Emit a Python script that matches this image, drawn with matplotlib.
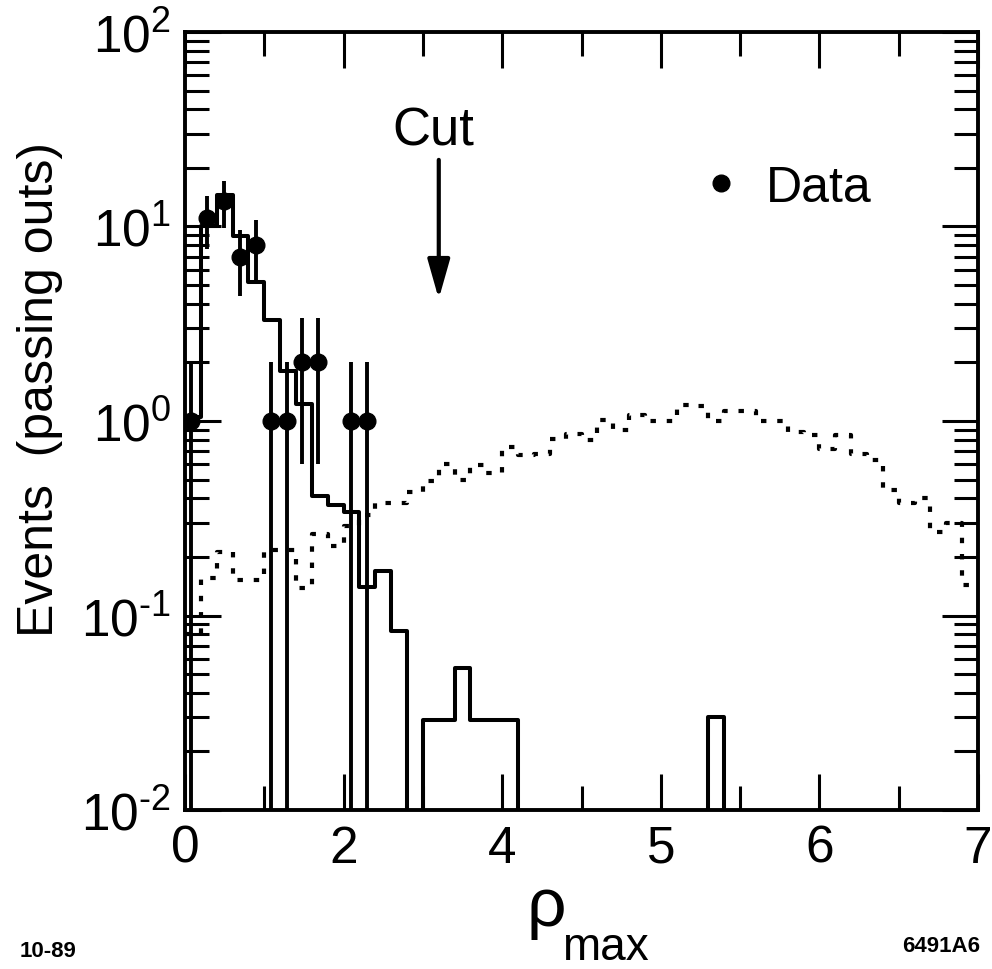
import numpy as np
import matplotlib.pyplot as plt
from matplotlib.lines import Line2D

plt.rcParams['font.family'] = ['Liberation Sans', 'DejaVu Sans']
plt.rcParams['mathtext.fontset'] = 'custom'
plt.rcParams['mathtext.rm'] = 'Liberation Sans'
plt.rcParams['mathtext.default'] = 'regular'

# frame runs 0..10 in 0.2 wide bins, printed labels are the original ones
edges = np.round(np.arange(0, 10.001, 0.2), 2)
xtick_pos = [0, 2, 4, 6, 8, 10]
xtick_txt = ['0', '2', '4', '5', '6', '7']
ytick_pos = [1e-2, 1e-1, 1, 10, 100]
ytick_txt = ['$10^{\u20102}$', '$10^{\u20101}$', '$10^{0}$', '$10^{1}$', '$10^{2}$']

mc_solid = [1.05, 10, 14.5, 8.9, 5.2, 3.3, 1.8, 1.23, 0.41, 0.37,
            0.34, 0.14, 0.17, 0.083, 0, 0.029, 0.029, 0.054, 0.029, 0.029,
            0.029, 0, 0, 0, 0, 0, 0, 0, 0, 0,
            0, 0, 0, 0.030, 0, 0, 0, 0, 0, 0,
            0, 0, 0, 0, 0, 0, 0, 0, 0, 0]

mc_dotted = [0.08, 0.155, 0.213, 0.152, 0.152, 0.216, 0.216, 0.138, 0.262, 0.228,
             0.29, 0.33, 0.38, 0.38, 0.43, 0.49, 0.60, 0.50, 0.596, 0.543,
             0.735, 0.668, 0.68, 0.81, 0.86, 0.80, 1.01, 0.90, 1.07, 1.0,
             1.0, 1.21, 1.19, 1.0, 1.12, 1.12, 1.0, 1.0, 0.88, 0.85,
             0.72, 0.85, 0.68, 0.63, 0.444, 0.38, 0.40, 0.27, 0.30, 0.144]

data_x = [0.07, 0.28, 0.49, 0.69, 0.89, 1.09, 1.29, 1.48, 1.68, 2.09, 2.29]
data_y = [1, 11, 13.5, 7, 8, 1, 1, 2, 2, 1, 1]
data_err = [1, 3.3, 3.7, 2.6, 2.8, 1, 1, 1.4, 1.4, 1, 1]

fig = plt.figure(figsize=(9.92, 9.70), dpi=100)
ax = fig.add_axes([0.1865, 0.1639, 0.7994, 0.8021])

def steps(vals):
    v = np.array(vals, dtype=float)
    v = np.where(v > 0, v, 1e-4)
    return np.append(v, v[-1])

ax.step(edges, steps(mc_solid), where='post', color='k', lw=2.9)
ax.step(edges, steps(mc_dotted), where='post', color='k', lw=3.0,
        linestyle=(0, (1.3, 2.6)))

y = np.array(data_y, dtype=float)
e = np.array(data_err, dtype=float)
lo = np.where(y - e > 0, e, y - 1e-4)
ax.errorbar(data_x, y, yerr=[lo, e], fmt='o', color='k', ms=12,
            elinewidth=2.8, capsize=0)

ax.set_yscale('log')
ax.set_xlim(0, 10)
ax.set_ylim(1e-2, 1e2)
ax.set_xticks(xtick_pos)
ax.set_xticklabels(xtick_txt)
ax.set_xticks([1, 3, 5, 7, 9], minor=True)
ax.set_yticks(ytick_pos)
ax.set_yticklabels(ytick_txt)

for s in ax.spines.values():
    s.set_linewidth(2.8)
ax.tick_params(which='both', direction='in', top=True, right=True, width=2.2)
ax.tick_params(which='major', length=26, labelsize=37)
ax.tick_params(axis='x', which='major', pad=10)
ax.tick_params(axis='y', which='major', pad=10)
ax.tick_params(which='minor', length=17)

fig.text(40, 970 - 390, 'Events  (passing outs)', fontsize=36, rotation=90,
         ha='center', va='center', transform=None)

ax.annotate('', xy=(3.2, 4.24), xytext=(3.2, 22),
            arrowprops=dict(arrowstyle='-|>,head_length=0.6,head_width=0.17',
                            color='k', lw=3, mutation_scale=40,
                            shrinkA=0, shrinkB=0))
ax.text(3.13, 26.5, 'Cut', fontsize=38, ha='center', va='baseline')

dot = Line2D([], [], marker='o', ls='', color='k', ms=12)
ax.legend([dot], ['Data'], loc='center left', bbox_to_anchor=(0.60, 0.80),
          frameon=False, fontsize=36, handlelength=0.6, handletextpad=0.6)

fig.text(546, 970 - 926, 'ρ', fontsize=50, ha='center', va='baseline',
         transform=None)
fig.text(562, 970 - 960, 'max', fontsize=33, ha='left', va='baseline',
         transform=None)
fig.text(20, 970 - 957, '10-89', fontsize=16, fontweight='bold',
         transform=None)
fig.text(980, 970 - 952, '6491A6', fontsize=16, fontweight='bold', ha='right',
         transform=None)

fig.savefig('out.png', dpi=100)
